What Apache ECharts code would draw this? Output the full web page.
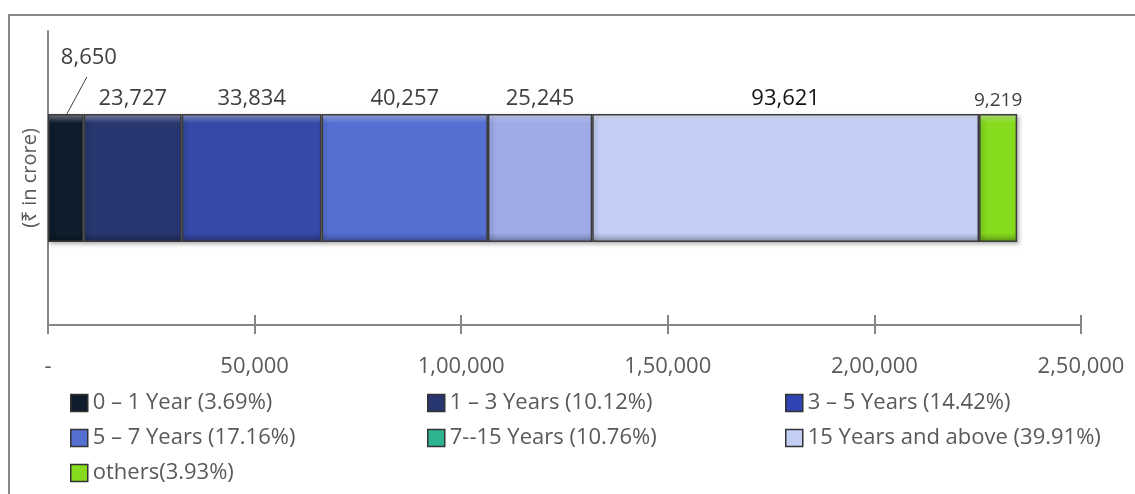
<!DOCTYPE html>
<html>
<head>
<meta charset="utf-8">
<script src="https://cdn.jsdelivr.net/npm/echarts@6/dist/echarts.min.js"></script>
<style>html,body{margin:0;padding:0;background:#fff;}#c{width:1135px;height:494px;}</style>
</head>
<body>
<div id="c"></div>
<script>
const categories = ['Maturity'];
const seriesNames = ['0 – 1 Year (3.69%)', '1 – 3 Years (10.12%)', '3 – 5 Years (14.42%)', '5 – 7 Years (17.16%)', '7--15 Years (10.76%)', '15 Years and above (39.91%)', 'others(3.93%)'];
const values = [8650, 23727, 33834, 40257, 25245, 93621, 9219];
const xTicks = [0, 50000, 100000, 150000, 200000, 250000];

const barColors = ['#0E1C2C', '#283670', '#3549A8', '#5470D3', '#9EABE7', '#C4CFF6', '#86DB1E'];
const legendColors = ['#0E1C2C', '#283670', '#2F44B2', '#5470D3', '#2DB38F', '#C4CFF6', '#86DB1E'];

function fmtIN(n) {
  if (n === 0) return '-';
  let s = String(Math.round(n));
  if (s.length <= 3) return s;
  let last3 = s.slice(-3), rest = s.slice(0, -3);
  rest = rest.replace(/\B(?=(\d{2})+(?!\d))/g, ',');
  return rest + ',' + last3;
}
function shade(hex, f) {
  let r = parseInt(hex.slice(1,3),16), g = parseInt(hex.slice(3,5),16), b = parseInt(hex.slice(5,7),16);
  const m = c => f >= 0 ? Math.round(c + (255 - c) * f) : Math.round(c * (1 + f));
  return 'rgb(' + m(r) + ',' + m(g) + ',' + m(b) + ')';
}
function bevel(hex) {
  return new echarts.graphic.LinearGradient(0, 0, 0, 1, [
    {offset: 0, color: shade(hex, 0.45)},
    {offset: 0.07, color: hex},
    {offset: 0.93, color: hex},
    {offset: 1, color: shade(hex, -0.3)}
  ]);
}

const chart = echarts.init(document.getElementById('c'));
const FONT = 'Open Sans';
const BAR_W = 128;

const series = values.map((v, i) => {
  const s = {
    name: seriesNames[i],
    type: 'bar',
    stack: 'total',
    barWidth: BAR_W,
    data: [v],
    itemStyle: {
      color: bevel(barColors[i]),
      borderColor: '#3c3c3c',
      borderWidth: 1.5,
      shadowBlur: 4,
      shadowColor: 'rgba(0,0,0,0.3)',
      shadowOffsetX: 2,
      shadowOffsetY: 2
    },
    label: {
      show: true,
      position: 'top',
      distance: 4,
      fontFamily: FONT,
      fontSize: i === 6 ? 19 : 22,
      color: i === 5 ? '#111' : '#404040',
      formatter: p => fmtIN(p.value)
    }
  };
  if (i === 0) {
    s.labelLayout = {dx: 23, dy: -41};
  }
  return s;
});

const legendStyle = {
  orient: 'vertical',
  itemWidth: 17,
  itemHeight: 17,
  itemGap: 13,
  icon: 'rect',
  top: 387,
  textStyle: {fontFamily: FONT, fontSize: 22, color: '#595959', lineHeight: 22},
  itemStyle: {borderColor: '#333', borderWidth: 1.5}
};
const legendItem = i => ({name: seriesNames[i], itemStyle: {color: legendColors[i], borderColor: '#333', borderWidth: 1.5}});

chart.setOption({
  animation: false,
  backgroundColor: '#fff',
  graphic: [{
    id: 'frame', type: 'rect', silent: true,
    shape: {x: 9, y: 15, width: 1200, height: 600},
    style: {fill: 'none', stroke: '#888', lineWidth: 2}
  }],
  legend: [
    Object.assign({}, legendStyle, {left: 65, data: [0, 3, 6].map(legendItem)}),
    Object.assign({}, legendStyle, {left: 422, data: [1, 4].map(legendItem)}),
    Object.assign({}, legendStyle, {left: 780, data: [2, 5].map(legendItem)})
  ],
  grid: {left: 48, right: 54, top: 31, bottom: 169, containLabel: false},
  xAxis: [{
    type: 'value',
    min: xTicks[0], max: xTicks[xTicks.length - 1], interval: xTicks[1] - xTicks[0],
    axisLine: {show: true, lineStyle: {color: '#868686', width: 2}},
    axisTick: {show: true, length: 9, lineStyle: {color: '#868686', width: 2}},
    axisLabel: {margin: 31, fontFamily: FONT, fontSize: 22, color: '#595959', formatter: v => fmtIN(v)},
    splitLine: {show: false}
  }, {
    type: 'value', gridIndex: 0, position: 'bottom',
    min: xTicks[0], max: xTicks[xTicks.length - 1], interval: xTicks[1] - xTicks[0],
    axisLine: {show: false},
    axisTick: {show: true, inside: true, length: 10, lineStyle: {color: '#868686', width: 2}},
    axisLabel: {show: false},
    splitLine: {show: false}
  }],
  yAxis: {
    type: 'category',
    data: categories,
    name: '(₹ in crore)',
    nameLocation: 'middle',
    nameRotate: 90,
    nameGap: 8,
    nameTextStyle: {fontFamily: FONT, fontSize: 20, color: '#595959'},
    axisLine: {show: true, lineStyle: {color: '#868686', width: 2}},
    axisTick: {show: false},
    axisLabel: {show: false}
  },
  series: series
});

// leader line for the first (small) segment label, anchored through the axes
const anchor = chart.convertToPixel({xAxisIndex: 0, yAxisIndex: 0}, [values[0] / 2, categories[0]]);
const barTop = anchor[1] - BAR_W / 2;
chart.setOption({
  graphic: [{
    id: 'leader', type: 'line', silent: true,
    shape: {x1: anchor[0] + 1, y1: barTop, x2: anchor[0] + 21, y2: barTop - 37},
    style: {stroke: '#404040', lineWidth: 1}
  }]
});
</script>
</body>
</html>
